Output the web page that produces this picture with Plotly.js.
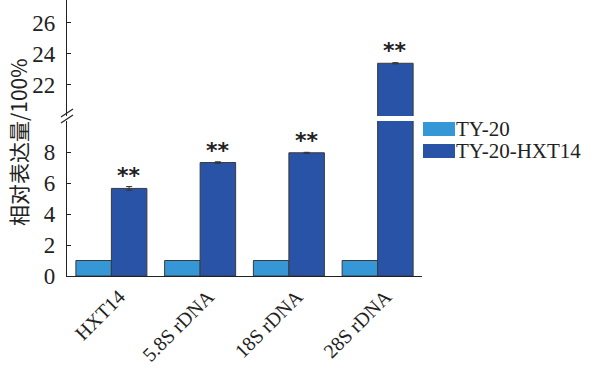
<!DOCTYPE html>
<html>
<head>
<meta charset="utf-8">
<script src="https://cdn.plot.ly/plotly-3.0.1.min.js"></script>
<style>html,body{margin:0;padding:0;background:#fff;}#chart{width:597px;height:373px;}</style>
</head>
<body>
<div id="chart"></div>
<script>
var categories = ['HXT14', '5.8S rDNA', '18S rDNA', '28S rDNA'];
var seriesNames = ['TY-20', 'TY-20-HXT14'];
var ty20 = [1, 1, 1, 1];
var hxt14 = [5.65, 7.32, 7.95, 23.4];
var hxt14Err = [0.12, 0.05, 0.03, 0.04];
var sigLabels = ['**', '**', '**', '**'];
var lowTicks = [0, 2, 4, 6, 8];
var highTicks = [22, 24, 26];
var yTitle = '相对表达量/100%';

var colLight = '#3597d6';
var colDark = '#2853a6';
var serif = 'Liberation Serif, Times New Roman, serif';

function barTrace(y, name, color, yaxis, err) {
  var t = {
    type: 'bar', x: categories, y: y, name: name, yaxis: yaxis, xaxis: 'x',
    marker: {color: color, line: {color: '#3a3a3a', width: 1}},
    showlegend: false, hoverinfo: 'skip'
  };
  if (err) t.error_y = {type: 'data', array: err, visible: true, color: '#333', thickness: 1, width: 3};
  return t;
}

var data = [
  barTrace(ty20, seriesNames[0], colLight, 'y', null),
  barTrace(hxt14, seriesNames[1], colDark, 'y', hxt14Err),
  barTrace(ty20, seriesNames[0], colLight, 'y2', null),
  barTrace(hxt14, seriesNames[1], colDark, 'y2', hxt14Err)
];

var lowDomTop = (276 - 121) / 276;
var highDomBot = (276 - 116) / 276;

var annotations = [];
hxt14.forEach(function (v, i) {
  var upper = v > 10;
  annotations.push({
    x: i + 0.2, y: v, xref: 'x', yref: upper ? 'y2' : 'y',
    text: sigLabels[i], showarrow: false, yanchor: 'bottom', yshift: -2,
    font: {family: 'DejaVu Sans, sans-serif', size: 22, color: '#222', weight: 'bold'}
  });
});
annotations.push({
  x: (18 - 67) / 355, y: (276 - 142) / 276, xref: 'paper', yref: 'paper', text: yTitle, textangle: -90,
  showarrow: false, xanchor: 'center', yanchor: 'middle',
  font: {family: 'Noto Sans CJK SC, sans-serif', size: 21, color: '#222'}
});

var shapes = [];
// custom legend
var legX0 = (423 - 67) / 355, legW = 32 / 355;
var legY = [(276 - 129) / 276, (276 - 151) / 276];
var legCols = [colLight, colDark];
seriesNames.forEach(function (n, i) {
  shapes.push({type: 'rect', xref: 'paper', yref: 'paper',
    x0: legX0, x1: legX0 + legW, y0: legY[i] - 7 / 276, y1: legY[i] + 7 / 276,
    fillcolor: legCols[i], line: {width: 0}});
  annotations.push({x: legX0 + legW, y: legY[i], xref: 'paper', yref: 'paper',
    text: n, showarrow: false, xanchor: 'left', yanchor: 'middle', xshift: 0,
    borderpad: 0,
    font: {family: serif, size: 21, color: '#222'}});
});
// axis break marks
[113, 119].forEach(function (py) {
  shapes.push({type: 'line', xref: 'paper', yref: 'paper',
    x0: -6 / 355, x1: 6 / 355, y0: (276 - py) / 276 - 4 / 276, y1: (276 - py) / 276 + 4 / 276,
    line: {color: '#222', width: 1.2}});
});

var axisCommon = {
  showgrid: false, zeroline: false, showline: true, linecolor: '#222', linewidth: 1.2,
  ticks: 'inside', ticklen: 4, tickcolor: '#222', tickwidth: 1,
  tickfont: {family: serif, size: 23, color: '#222'}, ticklabelstandoff: 6,
  fixedrange: true
};

var layout = {
  width: 597, height: 373,
  margin: {l: 67, r: 175, t: 0, b: 97},
  paper_bgcolor: '#fff', plot_bgcolor: '#fff',
  barmode: 'group', bargap: 0.2, bargroupgap: 0,
  showlegend: false,
  xaxis: {
    type: 'category', range: [-0.5, 3.5], showgrid: false, zeroline: false,
    showline: true, linecolor: '#222', linewidth: 1.2, ticks: '', tickangle: -45,
    tickfont: {family: serif, size: 20, color: '#222'}, ticklabelshift: 8,
    anchor: 'y', fixedrange: true
  },
  yaxis: Object.assign({}, axisCommon, {
    domain: [0, lowDomTop], range: [0, 10], tickvals: lowTicks, anchor: 'x'
  }),
  yaxis2: Object.assign({}, axisCommon, {
    domain: [highDomBot, 1], range: [20, 27.48], tickvals: highTicks, anchor: 'x'
  }),
  annotations: annotations,
  shapes: shapes
};

Plotly.newPlot('chart', data, layout, {displayModeBar: false, staticPlot: true});
</script>
</body>
</html>
